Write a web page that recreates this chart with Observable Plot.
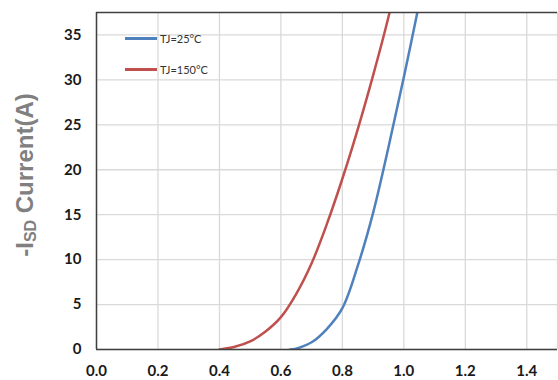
<!DOCTYPE html>
<html>
<head>
<meta charset="utf-8">
<script src="https://cdn.jsdelivr.net/npm/d3@7"></script>
<script src="https://cdn.jsdelivr.net/npm/@observablehq/plot@0.6"></script>
<style>
  html, body { margin: 0; padding: 0; background: #fff; }
  #wrap { position: relative; width: 558px; height: 380px; }
  #ylabel { position: absolute; left: 25px; top: 175px; transform: translate(-50%, -50%) rotate(-90deg);
    font-family: "Liberation Sans", Arial, sans-serif; font-weight: bold; font-size: 24px; color: #808080; white-space: nowrap; }
  #ylabel sub { font-size: 16px; vertical-align: -3px; }
  .leg { position: absolute; display: flex; align-items: center; font-family: Lato, "Liberation Sans", Arial, sans-serif; font-size: 11px; color: #333; }
  .leg span.sw { display: inline-block; width: 32px; height: 2.5px; margin-right: 3px; }
</style>
</head>
<body>
<div id="wrap"></div>
<script>
const xTicks = [0.0, 0.2, 0.4, 0.6, 0.8, 1.0, 1.2, 1.4];
const yTicks = [0, 5, 10, 15, 20, 25, 30, 35];
const xDomain = [0, 1.5];
const yDomain = [0, 37.5];

const seriesNames = ["TJ=25°C", "TJ=150°C"];
const seriesColors = ["#4f81bd", "#c0504d"];

// TJ=25°C
const vsd25 = [0.63, 0.65, 0.70, 0.75, 0.80, 0.85, 0.90, 0.95, 1.00, 1.05];
const isd25 = [0.0, 0.1, 0.8, 2.3, 4.6, 9.3, 15.2, 22.5, 30.3, 38.5];
// TJ=150°C
const vsd150 = [0.40, 0.45, 0.50, 0.55, 0.60, 0.65, 0.70, 0.75, 0.80, 0.85, 0.90, 0.95, 0.97];
const isd150 = [0.0, 0.3, 0.9, 2.0, 3.6, 6.2, 9.6, 14.0, 19.0, 24.5, 30.5, 37.0, 40.0];

const data = [
  ...vsd25.map((v, i) => ({x: v, y: isd25[i], s: seriesNames[0]})),
  ...vsd150.map((v, i) => ({x: v, y: isd150[i], s: seriesNames[1]}))
];

const tickFont = "Lato, Liberation Sans, Arial, sans-serif";

const chart = Plot.plot({
  width: 558,
  height: 380,
  marginLeft: 96,
  marginTop: 12,
  marginBottom: 31,
  marginRight: 1,
  style: {fontFamily: tickFont, background: "#fff", overflow: "visible"},
  x: {domain: xDomain, ticks: xTicks},
  y: {domain: yDomain, ticks: yTicks},
  color: {domain: seriesNames, range: seriesColors},
  marks: [
    Plot.gridX([...xTicks, xDomain[1]], {stroke: "#d9d9d9", strokeOpacity: 1, strokeWidth: 1.3}),
    Plot.gridY(yTicks, {stroke: "#d9d9d9", strokeOpacity: 1, strokeWidth: 1.3}),
    Plot.line(data, {x: "x", y: "y", z: "s", stroke: "s", strokeWidth: 2.5, curve: "catmull-rom", clip: true}),
    Plot.ruleY([yDomain[0]], {stroke: "#404040", strokeWidth: 1.5}),
    Plot.ruleY([yDomain[1]], {stroke: "#404040", strokeWidth: 1.5}),
    Plot.ruleX([xDomain[0]], {stroke: "#404040", strokeWidth: 1.5}),
    Plot.axisX(xTicks, {tickSize: 0, tickPadding: 16, tickFormat: d3.format(".1f"), fontSize: 15, fontWeight: "bold", fill: "#1a1a1a", label: null}),
    Plot.axisY(yTicks, {tickSize: 0, tickPadding: 15, fontSize: 15, fontWeight: "bold", fill: "#1a1a1a", label: null})
  ]
});

const wrap = document.getElementById("wrap");
wrap.appendChild(chart);

const yl = document.createElement("div");
yl.id = "ylabel";
yl.innerHTML = "-I<sub>SD</sub> Current(A)";
wrap.appendChild(yl);

const legTops = [32, 63];
seriesNames.forEach((n, i) => {
  const d = document.createElement("div");
  d.className = "leg";
  d.style.left = "125px";
  d.style.top = legTops[i] + "px";
  d.innerHTML = `<span class="sw" style="background:${seriesColors[i]}"></span>${n}`;
  wrap.appendChild(d);
});
</script>
</body>
</html>
